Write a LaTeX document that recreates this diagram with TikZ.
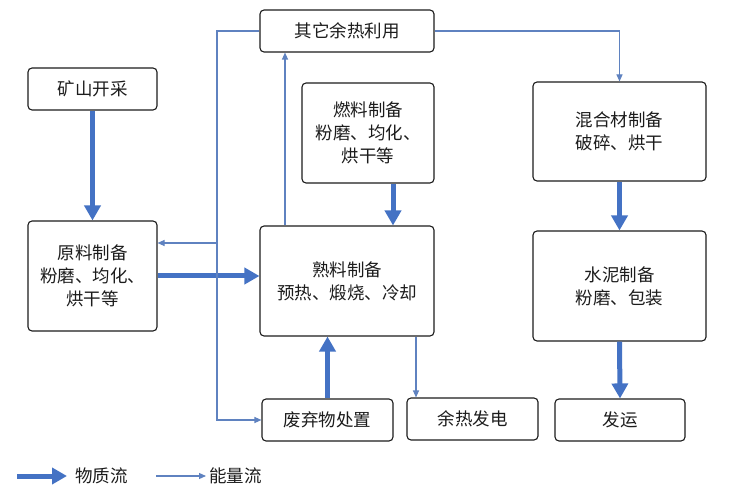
\documentclass[tikz,border=0pt]{standalone}
\usepackage{fontspec}
\setmainfont{Noto Sans CJK SC}
\usetikzlibrary{arrows.meta}
\definecolor{matblue}{HTML}{4472C4}
\definecolor{enblue}{HTML}{5F82C0}
\definecolor{txt}{HTML}{1C1C1C}
\begin{document}
\begin{tikzpicture}[x=1pt,y=-1pt,
  box/.style={draw=txt, line width=1.1pt, rounded corners=4pt, fill=white, align=center,
    text=txt, font=\fontsize{17.5}{23}\selectfont, inner sep=0pt},
  mat/.style={draw=matblue, line width=5pt, -{Triangle[length=15pt,width=16pt]}},
  ene/.style={draw=enblue, line width=1.1pt, -{Triangle[length=7pt,width=6pt]}},
  lbl/.style={text=txt, font=\fontsize{17.5}{23}\selectfont, inner sep=0pt}]
\useasboundingbox (0,0) rectangle (738,502);
\fill[white] (0,0) rectangle (738,502);

\node[box, minimum width=129pt, minimum height=42pt] (mine) at (92.5,89) {矿山开采};
\node[box, minimum width=174pt, minimum height=42pt] (other) at (347,31) {其它余热利用};
\node[box, minimum width=132pt, minimum height=100pt] (fuel) at (368,133) {燃料制备\\粉磨、均化、\\烘干等};
\node[box, minimum width=173pt, minimum height=99pt] (mix) at (619.5,131.5) {混合材制备\\破碎、烘干};
\node[box, minimum width=129pt, minimum height=110pt] (raw) at (92.5,276) {原料制备\\粉磨、均化、\\烘干等};
\node[box, minimum width=174pt, minimum height=110pt] (clinker) at (347,281) {熟料制备\\预热、煅烧、冷却};
\node[box, minimum width=173pt, minimum height=110pt] (cement) at (619.5,286) {水泥制备\\粉磨、包装};
\node[box, minimum width=131pt, minimum height=42pt] (waste) at (327.5,420) {废弃物处置};
\node[box, minimum width=131pt, minimum height=42pt] (power) at (472.5,419) {余热发电};
\node[box, minimum width=130pt, minimum height=42pt] (ship) at (620,420) {发运};

% material flows
\draw[mat] (mine.south) -- (raw.north);
\draw[mat] ([xshift=25pt]fuel.south) -- ([xshift=25pt]fuel.south |- clinker.north);
\draw[mat] (raw.east) -- (raw.east -| clinker.west);
\draw[mat] (mix.south) -- (cement.north);
\draw[mat] (waste.north) -- (waste.north |- clinker.south);
\draw[mat] (cement.south) -- (ship.north);

% energy flows
\coordinate (br) at (217,243);
\draw[ene] (other.west) -- (br |- other.west) |- (waste.west);
\draw[ene] (br) -- (br -| raw.east);
\draw[ene] ([xshift=-62pt]clinker.north) -- ([xshift=-62pt]clinker.north |- other.south);
\draw[ene] (other.east) -| (mix.north);
\draw[ene] ([xshift=69pt]clinker.south) -- ([xshift=69pt]clinker.south |- power.north);

% legend
\coordinate (l1) at (17,476);
\coordinate (l2) at (156,476);
\draw[mat] (l1) -- ++(50,0);
\node[lbl, anchor=west] (lt1) at (75,476) {物质流};
\draw[ene] (l2) -- ++(50,0);
\node[lbl, anchor=west] (lt2) at (209,476) {能量流};
\end{tikzpicture}
\end{document}
